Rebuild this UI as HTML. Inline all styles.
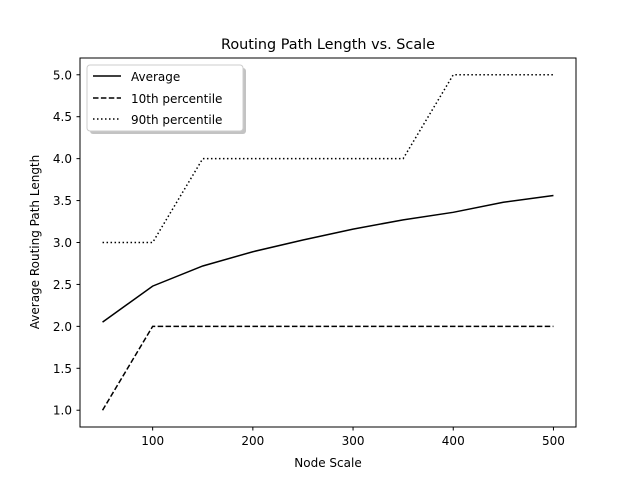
<!DOCTYPE html>
<html><head><meta charset="utf-8"><style>
body{margin:0;background:#fff;}
svg text{font-family:"DejaVu Sans","Liberation Sans",sans-serif;fill:#000;}
</style></head><body>
<svg id="chart" width="640" height="480" xmlns="http://www.w3.org/2000/svg">
<rect width="640" height="480" fill="#fff"/>
<text x="328" y="49" font-size="14.4" text-anchor="middle">Routing Path Length vs. Scale</text>
<text x="328" y="467" font-size="12" text-anchor="middle">Node Scale</text>
<text transform="translate(39,242) rotate(-90)" font-size="12" text-anchor="middle">Average Routing Path Length</text>
<g id="ticks"></g>
<g id="series"></g>
<rect x="80" y="58" width="496" height="369" fill="none" stroke="#000" stroke-width="1"/>
<g>
<rect x="90" y="68" width="156" height="66" rx="3" fill="#888" opacity="0.5"/>
<rect x="87" y="65" width="156" height="66" rx="3" fill="#fff" stroke="#ccc"/>
<g><line x1="93" y1="76" x2="121" y2="76" stroke="#000" stroke-width="1.5"/><text x="131" y="81" font-size="12">Average</text></g>
<g><line x1="93" y1="98" x2="121" y2="98" stroke="#000" stroke-width="1.5" stroke-dasharray="5.5,2.4"/><text x="131" y="103" font-size="12">10th percentile</text></g>
<g><line x1="93" y1="119" x2="121" y2="119" stroke="#000" stroke-width="1.5" stroke-dasharray="1.5,2.5"/><text x="131" y="124" font-size="12">90th percentile</text></g>
</g>
</svg>
<script>
const scales=[50,100,150,200,250,300,350,400,450,500];
const avg=[2.05,2.48,2.72,2.89,3.03,3.16,3.27,3.36,3.48,3.56];
const p10=[1,2,2,2,2,2,2,2,2,2];
const p90=[3,3,4,4,4,4,4,5,5,5];
const xTicks=[100,200,300,400,500];
const yTicks=[1.0,1.5,2.0,2.5,3.0,3.5,4.0,4.5,5.0];
const NS="http://www.w3.org/2000/svg";
const X=v=>80+(v-27.5)/(522.5-27.5)*496;
const Y=v=>427-(v-0.8)/(5.2-0.8)*369;
const tg=document.getElementById('ticks');
function mk(t,a,p){const e=document.createElementNS(NS,t);for(const k in a)e.setAttribute(k,a[k]);p.appendChild(e);return e;}
xTicks.forEach(v=>{
 const l=mk('line',{x1:X(v),x2:X(v),y1:427,y2:430.5,stroke:'#000'},tg);
 
 
 const t=mk('text',{x:X(v),y:445,'font-size':12,'text-anchor':'middle'},tg);t.textContent=v;
 
 
});
yTicks.forEach(v=>{
 const l=mk('line',{x1:76.5,x2:80,y1:Y(v),y2:Y(v),stroke:'#000'},tg);
 
 
 const t=mk('text',{x:72,y:Y(v)+4.5,'font-size':12,'text-anchor':'end'},tg);t.textContent=v.toFixed(1);
 
 
});
const sg=document.getElementById('series');
function line(vals,dash,name){
 const p=mk('polyline',{points:vals.map((v,i)=>X(scales[i])+','+Y(v)).join(' '),fill:'none',stroke:'#000','stroke-width':1.5},sg);
 if(dash)p.setAttribute('stroke-dasharray',dash);
 
 
}
line(avg,null,'average-line');
line(p10,'5.5,2.4','p10-line');
line(p90,'1.5,2.5','p90-line');
</script>
</body></html>
